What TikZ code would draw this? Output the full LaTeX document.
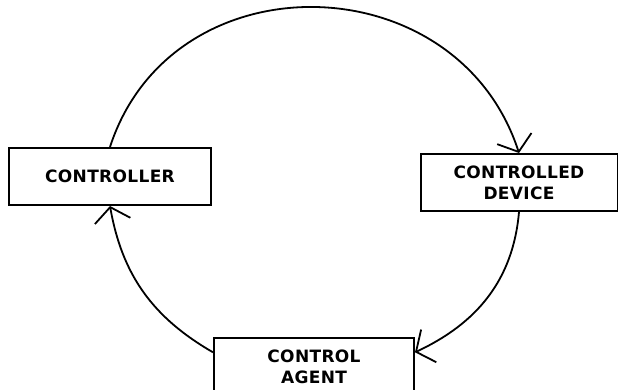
\documentclass[tikz,border=0pt]{standalone}
\usepackage{fontspec}
\usepackage{tikz}
\usetikzlibrary{arrows.meta}
\newfontfamily\boxfont{DejaVu Sans}[LetterSpace=2]
\tikzset{
    plain-box/.style = {draw, line width=2pt, rectangle, minimum height=57pt, inner sep=0pt, align=center, font=\boxfont\bfseries\fontsize{17}{21}\selectfont},
    loop-arc/.style = {line width=1.8pt, -{Straight Barb[length=14pt,width=36pt]}},
}

\begin{document}
\begin{tikzpicture}[x=1pt,y=1pt]
\clip (0,0) rectangle (618,389);
\node[plain-box, minimum width=202pt] (controller) at (110,212.5) {CONTROLLER};
\node[plain-box, minimum width=197pt] (device) at (519,206.5) {CONTROLLED\\DEVICE};
\node[plain-box, minimum width=200pt] (agent) at (314,22.5) {CONTROL\\AGENT};

\draw[loop-arc] (controller.north) to[out=72, in=108, looseness=1.25] (device.north);
\draw[loop-arc] (device.south) to[out=-95, in=25] (agent.8);
\draw[loop-arc] (agent.172) to[out=150, in=-80] (controller.south);
\end{tikzpicture}
\end{document}
